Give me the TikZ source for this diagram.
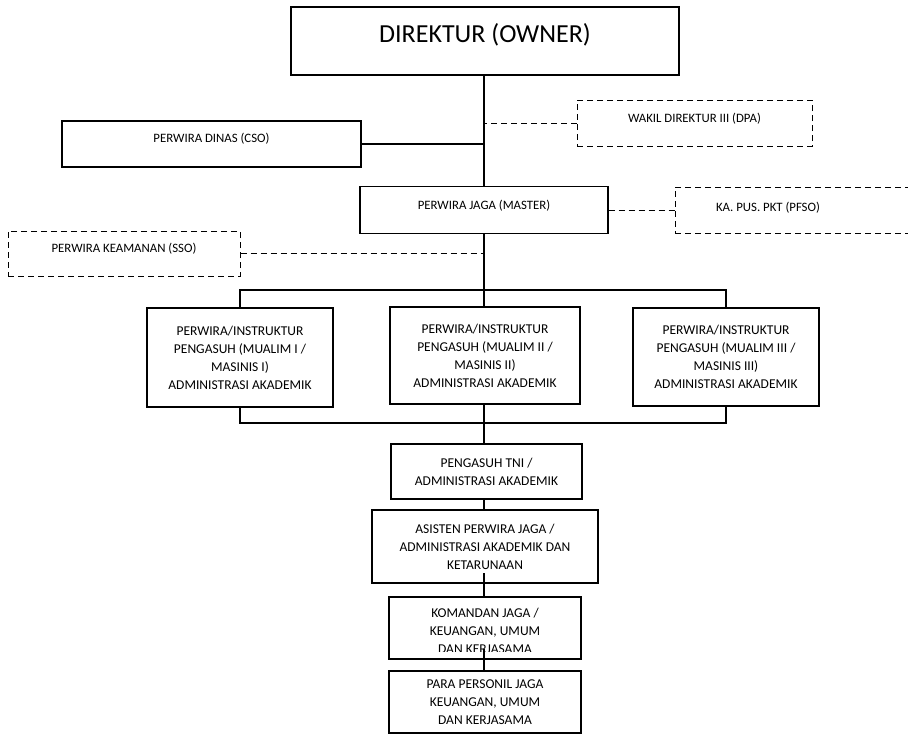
\documentclass[tikz,border=0pt]{standalone}
\usepackage{fontspec}
\setmainfont{Carlito}
\usetikzlibrary{positioning}

\tikzset{
  kotak/.style={draw, line width=1.4pt, inner sep=0pt, align=center,
    font=\fontsize{13.5}{18}\selectfont},
  kotaksatu/.style={draw, line width=1.4pt, inner sep=0pt,
    font=\fontsize{12.8}{15}\selectfont, text height=9pt, text depth=12pt},
  kotakputus/.style={draw, line width=1pt, dash pattern=on 6pt off 4pt, inner sep=0pt,
    font=\fontsize{12.8}{15}\selectfont, text height=9pt, text depth=11pt},
  garis/.style={line width=1.3pt},
  garisputus/.style={line width=1pt, dash pattern=on 6pt off 4pt},
}

\begin{document}
\begin{tikzpicture}[x=1pt,y=-1pt]
  \useasboundingbox (0,0) rectangle (908,737);

  % ===== pimpinan =====
  \node[kotaksatu, minimum width=388pt, minimum height=68pt,
    font=\fontsize{26}{30}\selectfont, text height=20pt, text depth=17pt]
    (direktur) at (485,41) {DIREKTUR (OWNER)};

  % ===== staf di samping =====
  \node[kotakputus, minimum width=235pt, minimum height=46pt] (wakil) at (694.5,123) {WAKIL DIREKTUR III (DPA)};
  \node[kotaksatu, minimum width=299pt, minimum height=46pt] (dinas) at (211.5,144) {PERWIRA DINAS (CSO)};
  \node[kotaksatu, minimum width=248pt, minimum height=47pt, text depth=10pt] (jaga) at (484,210) {PERWIRA JAGA (MASTER)};
  \node[kotakputus, minimum width=260pt, minimum height=46pt, text height=0pt, text depth=0pt] (kapus) at (805,210) {};
  \node[font=\fontsize{12.8}{15}\selectfont, inner sep=0pt] (teksKapus) at (768,208) {KA. PUS. PKT (PFSO)};
  \node[kotakputus, minimum width=232pt, minimum height=45pt, text depth=12pt] (keamanan) at (124,253.5) {PERWIRA KEAMANAN (SSO)};

  % ===== perwira / instruktur pengasuh =====
  \node[kotak, minimum width=186pt, minimum height=99pt] (kiri) at (240,357.5)
    {PERWIRA/INSTRUKTUR\\PENGASUH (MUALIM I /\\MASINIS I)\\ADMINISTRASI AKADEMIK};
  \node[kotak, minimum width=190pt, minimum height=97pt] (tengah) at (485,355.5)
    {PERWIRA/INSTRUKTUR\\PENGASUH (MUALIM II /\\MASINIS II)\\ADMINISTRASI AKADEMIK};
  \node[kotak, minimum width=186pt, minimum height=98pt] (kanan) at (726,357)
    {PERWIRA/INSTRUKTUR\\PENGASUH (MUALIM III /\\MASINIS III)\\ADMINISTRASI AKADEMIK};

  % ===== jalur ke bawah =====
  \node[kotak, minimum width=191pt, minimum height=55pt] (pengasuh) at (486.5,471.5)
    {PENGASUH TNI /\\ADMINISTRASI AKADEMIK};
  \node[kotak, minimum width=226pt, minimum height=73pt] (asisten) at (485,546.5)
    {ASISTEN PERWIRA JAGA /\\ADMINISTRASI AKADEMIK DAN\\KETARUNAAN};
  \node[kotak, minimum width=192pt, minimum height=62pt] (komandan) at (485,628) {};
  \begin{scope}
    \clip (389,597) rectangle (581,651.5);
    \node[kotak, draw=none] (teksKomandan) at (485,631)
      {KOMANDAN JAGA /\\KEUANGAN, UMUM\\DAN KERJASAMA};
  \end{scope}
  \node[kotak, minimum width=192pt, minimum height=62pt] (personil) at (485,702)
    {PARA PERSONIL JAGA\\KEUANGAN, UMUM\\DAN KERJASAMA};

  % ===== garis penghubung =====
  \coordinate (poros) at (484,0);
  \coordinate (busAtas) at (484,290);
  \coordinate (busBawah) at (484,423);
  \coordinate (asistenDalam) at (484,573);
  \coordinate (komandanDalam) at (484,649);

  \draw[garis] (poros |- direktur.south) -- (poros |- jaga.north);
  \draw[garis] (poros |- jaga.south) -- (busAtas);
  \draw[garis] (dinas.east) -- (dinas.east -| poros);
  \draw[garisputus] (wakil.west) -- (wakil.west -| poros);
  \draw[garisputus] (jaga.east) -- (jaga.east -| kapus.west);
  \draw[garisputus] (keamanan.east) -- (keamanan.east -| poros);

  \draw[garis] (kiri.north) |- (busAtas) -| (kanan.north);
  \draw[garis] (busAtas) -- (poros |- tengah.north);
  \draw[garis] (kiri.south) |- (busBawah) -| (kanan.south);
  \draw[garis] (poros |- tengah.south) -- (poros |- pengasuh.north);
  \draw[garis] (poros |- pengasuh.south) -- (poros |- asisten.north);
  \draw[garis] (asistenDalam) -- (poros |- komandan.north);
  \draw[garis] (komandanDalam) -- (poros |- personil.north);
\end{tikzpicture}
\end{document}
